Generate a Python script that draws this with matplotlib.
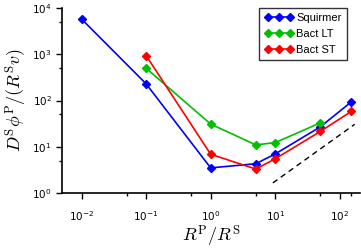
import numpy as np
import matplotlib
matplotlib.use('Agg')
import matplotlib.pyplot as plt
from matplotlib.ticker import FixedLocator, NullFormatter

plt.rcParams['mathtext.fontset'] = 'cm'
plt.rcParams['font.family'] = 'Liberation Sans'

# data
x_squirmer = [0.01, 0.1, 1, 5, 10, 50, 150]
y_squirmer = [5800, 230, 3.5, 4.3, 7.0, 27, 93]

x_lt = [0.1, 1, 5, 10, 50]
y_lt = [500, 31, 11, 12.3, 33]

x_st = [0.1, 1, 5, 10, 50, 150]
y_st = [940, 6.9, 3.3, 5.5, 21.5, 58]

# guide line with slope 1
x_guide = [9.2, 170]
guide_coef = 0.18

x_major = [1e-2, 1e-1, 1, 10, 100]
y_major = [1, 10, 100, 1000, 10000]

fig = plt.figure(figsize=(3.61, 2.52), dpi=100)
ax = fig.add_axes([0.172, 0.234, 0.825, 0.734])

ax.plot(x_squirmer, y_squirmer, color='#0000ff', marker='D', ms=4.5, lw=1.2, label='Squirmer')
ax.plot(x_lt, y_lt, color='#00c000', marker='D', ms=4.5, lw=1.2, label='Bact LT')
ax.plot(x_st, y_st, color='#ff0000', marker='D', ms=4.5, lw=1.2, label='Bact ST')
ax.plot(x_guide, [guide_coef * v for v in x_guide], 'k--', lw=1, dashes=(4, 3))

ax.set_xscale('log')
ax.set_yscale('log')
ax.set_xlim(0.005, 205)
ax.set_ylim(1, 1e4)

ax.set_xticks(x_major, labels=[r'$10^{%d}$' % round(np.log10(v)) for v in x_major])
ax.set_yticks(y_major, labels=[r'$10^{%d}$' % round(np.log10(v)) for v in y_major])
ax.xaxis.set_minor_locator(FixedLocator([0.05, 0.5, 5, 50, 150]))
ax.yaxis.set_minor_locator(FixedLocator([5, 50, 500, 5000]))
ax.xaxis.set_minor_formatter(NullFormatter())
ax.yaxis.set_minor_formatter(NullFormatter())
for lab in ax.get_xticklabels() + ax.get_yticklabels():
    lab.set_math_fontfamily('dejavusans')

ax.spines['top'].set_visible(False)
ax.spines['right'].set_visible(False)
ax.spines['left'].set_linewidth(1.2)
ax.spines['bottom'].set_linewidth(1.2)
ax.tick_params(which='major', direction='out', length=4, width=1, labelsize=7.5)
ax.tick_params(which='minor', direction='out', length=2, width=1)
ax.tick_params(axis='x', pad=8)

ax.set_xlabel(r'$R^{\mathrm{P}}/R^{\mathrm{S}}$', fontsize=13, labelpad=0)
ax.set_ylabel(r'$D^{\mathrm{S}}\phi^{\mathrm{P}}/(R^{\mathrm{S}}v)$', fontsize=13, labelpad=2)

leg = ax.legend(loc='upper right', bbox_to_anchor=(0.956, 1.0), borderaxespad=0,
                fontsize=8, frameon=True, fancybox=False, edgecolor='black',
                handlelength=2.6, borderpad=0.45, labelspacing=0.55,
                handletextpad=0.3, numpoints=3)
leg.get_frame().set_linewidth(1)

fig.savefig('out.png', dpi=100)
